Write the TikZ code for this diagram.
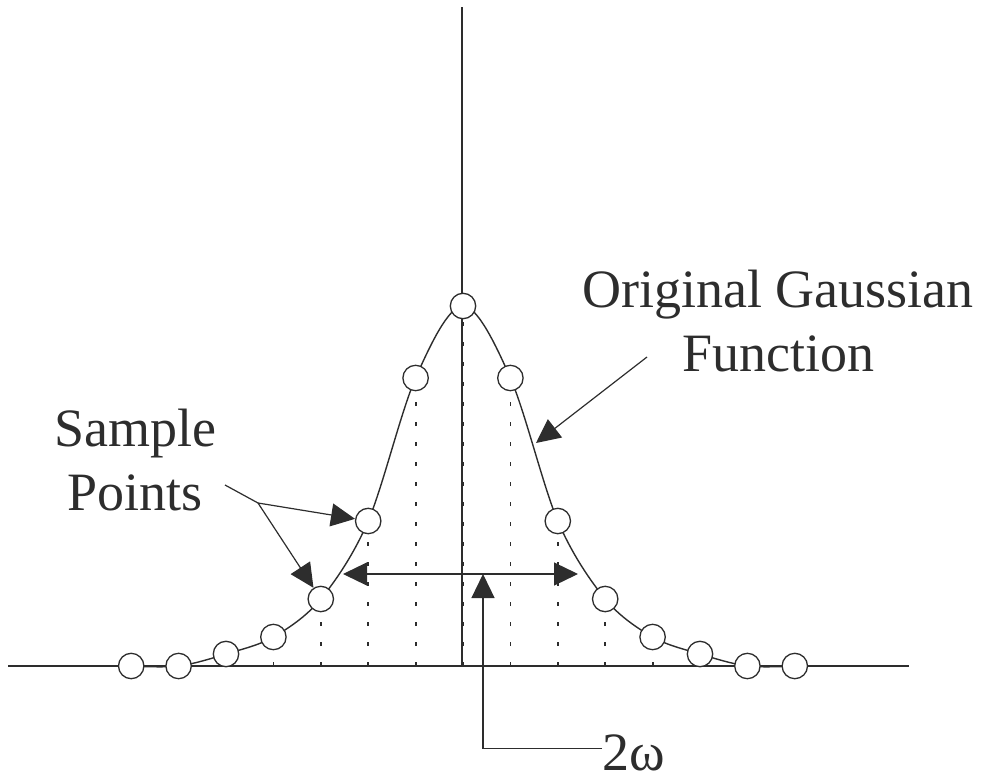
\documentclass[tikz,border=0pt]{standalone}
\usepackage{fontspec}
\setmainfont{Liberation Serif}
\usetikzlibrary{arrows.meta,positioning,calc}
\definecolor{ink}{RGB}{45,45,45}

\begin{document}
\begin{tikzpicture}[x=0.5pt, y=-0.5pt, >={Triangle[length=12pt, width=11.5pt]}]
  \tikzset{
    axis/.style={line width=0.8pt, draw=ink},
    curve/.style={line width=0.7pt, draw=ink},
    guide/.style={line width=0.9pt, draw=ink, dash pattern=on 2pt off 8pt},
    sample/.style={circle, draw=ink, fill=white, minimum size=12.7pt,
      inner sep=0pt, line width=0.65pt},
    pointer/.style={line width=0.6pt, draw=ink},
    caption/.style={font=\fontsize{27}{32}\selectfont, text=ink, align=center,
      inner sep=0pt}
  }
  \useasboundingbox (0,0) rectangle (990,780);

  \coordinate (xl) at (8,666);
  \coordinate (xr) at (909,666);
  \coordinate (origin) at (462,666);
  \coordinate (ytop) at (462,7);
  \draw[axis] (xl) -- (xr);
  \draw[axis] (origin) -- (ytop);

  \foreach \h [count=\k] in {0,0,12,29,67,145,288,360,288,145,67,29,12,0,0} {
    \coordinate (b\k) at ({463+47.4*(\k-8)},666);
    \coordinate (c\k) at ({463+47.4*(\k-8)},{666-\h});
  }
  \foreach \k in {3,...,13}
    \draw[guide] (b\k) -- ([yshift=6.35pt]c\k);

  \draw[curve] plot[smooth, tension=0.55] coordinates {(c1) (c2) (c3) (c4) (c5)
    (c6) (c7) (c8) (c9) (c10) (c11) (c12) (c13) (c14) (c15)};

  \foreach \k in {1,...,15}
    \node[sample] (s\k) at (c\k) {};

  \node[caption] (gauss) at (778,321) {Original Gaussian\\Function};
  \node[caption] (samples) at (135,460) {Sample\\Points};
  \node[caption, anchor=base west] (omega) at (602,770) {2ω};

  \coordinate (gtail) at (647,357);
  \coordinate (gtip) at (536,443);
  \draw[pointer, ->] (gtail) -- (gtip);

  \coordinate (sptail) at (225,485);
  \coordinate (spfork) at (258,503);
  \draw[pointer] (sptail) -- (spfork);
  \draw[pointer, ->] (spfork) -- (s6);
  \draw[pointer, ->] (spfork) -- (s5);

  \coordinate (wl) at (343,574);
  \coordinate (wr) at (578,574);
  \coordinate (wm) at (483,574);
  \draw[pointer, <->] (wl) -- (wr);
  \draw[pointer, ->] ($(omega.west)+(0,-4)$) -| (wm);
\end{tikzpicture}
\end{document}
